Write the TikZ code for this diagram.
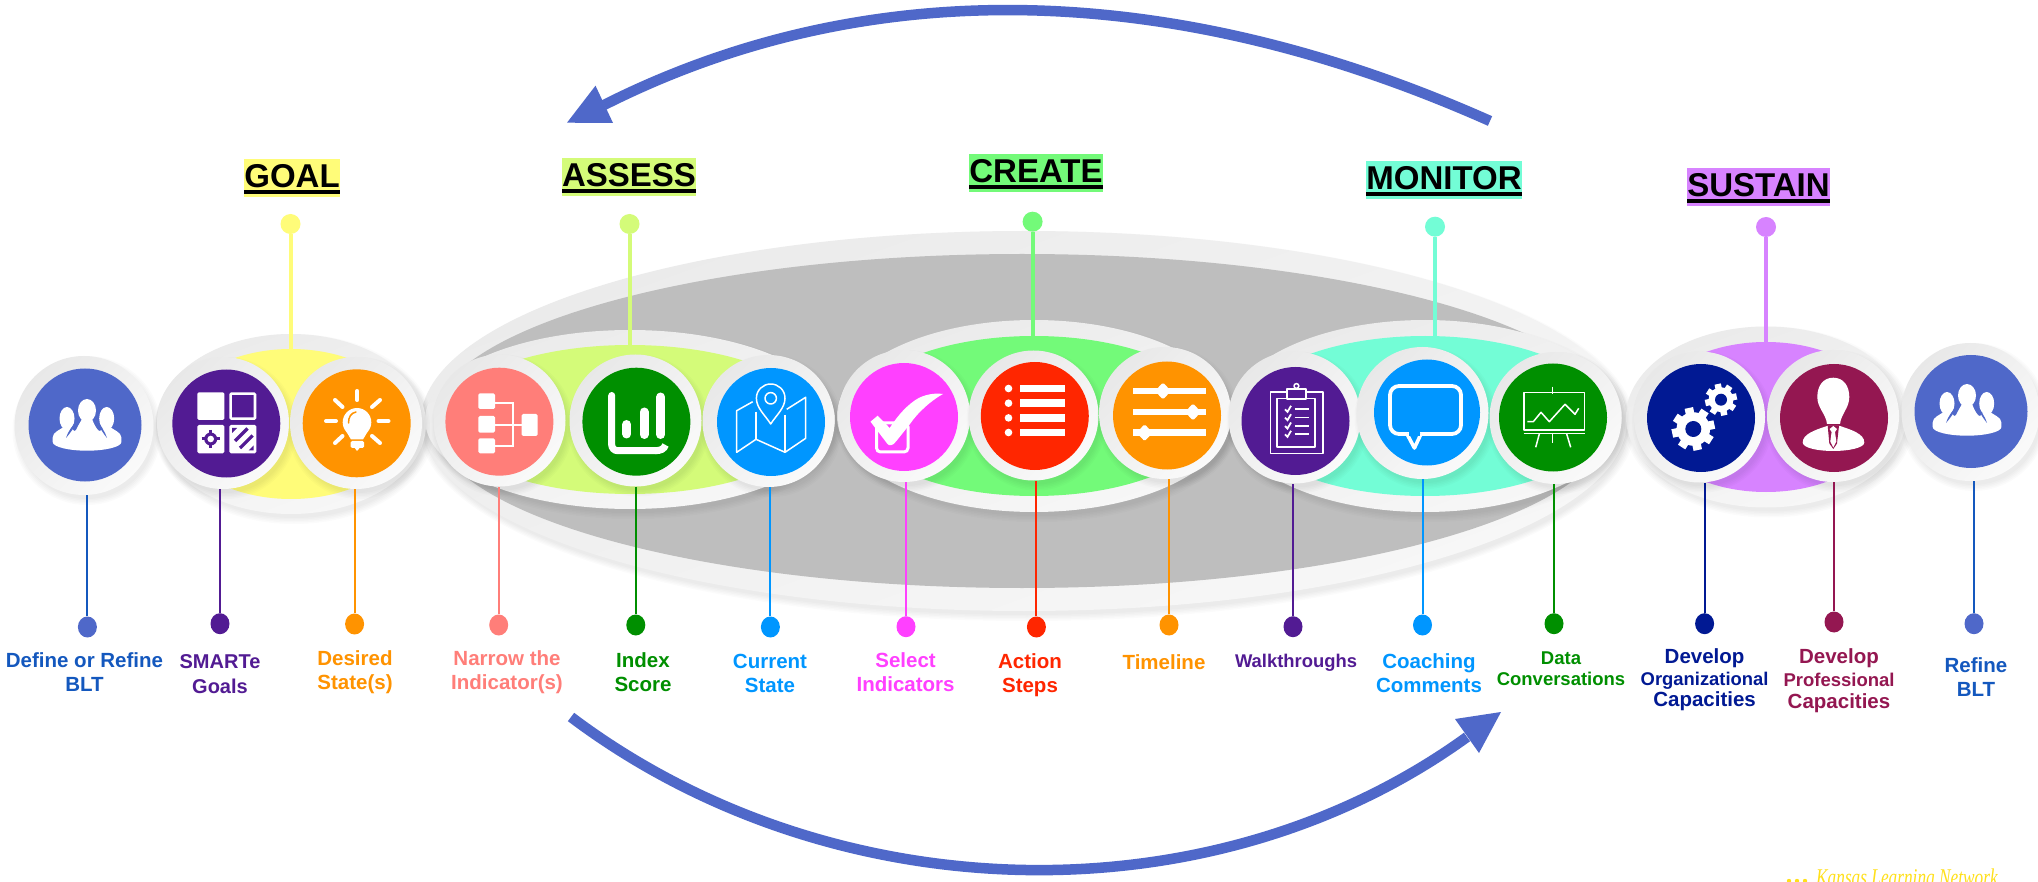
\documentclass[tikz,border=0pt]{standalone}
\usepackage{fontspec}
\setmainfont{Liberation Sans}
\newfontfamily\wmfont{Liberation Serif}
\usetikzlibrary{shapes.geometric}
\definecolor{cblue}{HTML}{4F68C9}
\definecolor{cblueT}{HTML}{1458BE}
\definecolor{cpurple}{HTML}{521B93}
\definecolor{corange}{HTML}{FF9300}
\definecolor{csalmon}{HTML}{FF7E79}
\definecolor{cgreen}{HTML}{008F00}
\definecolor{csky}{HTML}{0096FF}
\definecolor{cmag}{HTML}{FF40FF}
\definecolor{cred}{HTML}{FF2600}
\definecolor{cnavy}{HTML}{011993}
\definecolor{cmaroon}{HTML}{941751}
\definecolor{gyellow}{HTML}{FFFC79}
\definecolor{glime}{HTML}{D4FB79}
\definecolor{ggreen}{HTML}{73FA79}
\definecolor{gaqua}{HTML}{73FDD6}
\definecolor{gviolet}{HTML}{D783FF}
\definecolor{bggray}{HTML}{BEBEBE}
\definecolor{wmyellow}{HTML}{FFE01A}
\tikzset{
  ringnode/.style={circle,inner sep=0pt,outer sep=0pt,draw=none,shading=axis,top color=black!9,bottom color=black!2,shading angle=45},
  ringell/.style={ellipse,inner sep=0pt,outer sep=0pt,draw=none,shading=axis,top color=black!8,bottom color=black!3,shading angle=20},
  discnode/.style={circle,inner sep=0pt,outer sep=0pt,draw=none},
  dotnode/.style={ellipse,minimum width=19pt,minimum height=21pt,inner sep=0pt,draw=none},
  grpnode/.style={ellipse,inner sep=0pt,outer sep=0pt,draw=none},
  headnode/.style={inner sep=0pt,outer sep=0pt,draw=none,font=\fontsize{33}{36}\selectfont\bfseries},
  lab/.style={align=center,inner sep=0pt,font=\fontsize{20.5}{24}\selectfont\bfseries},
  arc line/.style={cblue,line width=10.5pt},
  thin icon/.style={white,line width=1.5pt,line join=round},
}
\newcommand\softshadow[4]{%
  \foreach \k in {0,...,4}{\fill[black,opacity=.016] ({#1+3},{#2+5}) ellipse [x radius={#3-1+1.5*\k},y radius={#4-1+1.5*\k}];}}
\newcommand\stagedisc[8]{%
  \softshadow{#2}{#3}{#4}{#4}
  \node[ringnode,minimum size={2*#4}] (ring-#1) at (#2,#3) {};
  \node[discnode,fill=#8,minimum size={2*#7}] (disc-#1) at (#5,#6) {};}
\newcommand\stem[5]{%
  \node[dotnode,fill=#4] (dot-#1) at (#2,#3) {};
  \draw[#5,line width=2pt] (dot-#1) -- (dot-#1 |- ring-#1.south);}
\newcommand\stagegroup[8]{%
  \softshadow{#2}{#3}{#4}{#5}
  \node[ringell,minimum width={2*#4},minimum height={2*#5}] (gring-#1) at (#2,#3) {};
  \node[grpnode,fill=#8,minimum width={2*#6},minimum height={2*#7}] (grp-#1) at (#2,#3) {};}
\newcommand\topstem[4]{%
  \node[dotnode,minimum width=20pt,minimum height=20pt,fill=#4] (tdot-#1) at (#2,#3) {};
  \draw[#4,line width=4pt] (tdot-#1) -- ([yshift=-1pt]tdot-#1 |- grp-#1.north);}
\newcommand\thickul[1]{\vbox{\hbox{#1}\kern2pt\hrule height 4pt\kern-3pt}}
\newcommand\peopleicon[2]{%
  \begin{scope}[shift={(#1,#2)}]
    \fill[white] (2,-14.5) ellipse [x radius=9,y radius=11.5];
    \fill[white] (-18,-6.5) ellipse [x radius=7.5,y radius=11.5];
    \fill[white] (21.7,-6.5) ellipse [x radius=7.5,y radius=11.5];
    \fill[white] (-32.3,12.5) .. controls (-32.3,7) and (-25,5) .. (-20,1) -- (-15,1) .. controls (-12,4) and (-11,8) .. (-9,5)
      .. controls (-6,-1) and (-4,-4) .. (-3,-6) -- (7,-6) .. controls (9,-1) and (11,3) .. (13,5)
      .. controls (15,8) and (17,4) .. (19,1) -- (24,1) .. controls (28,5) and (36.4,7) .. (36.4,12.5)
      -- (36.4,17) .. controls (36.4,22) and (20,25.7) .. (2,25.7) .. controls (-16,25.7) and (-32.3,22) .. (-32.3,17) -- cycle;
    \fill[cblue] (-19,13) .. controls (-17,6) and (-13,2) .. (-8,-5) .. controls (-11,4) and (-15,8) .. (-19,13) -- cycle;
    \fill[cblue] (22,13) .. controls (20,6) and (16,2) .. (12,-5) .. controls (15,4) and (18,8) .. (22,13) -- cycle;
  \end{scope}}
\newcommand\gearicon[4]{%
  \foreach \a in {0,45,90,135}{\fill[white,shift={(#1,#2)},rotate=\a+12] ({-#3*.2},{-#3}) rectangle ({#3*.2},{#3});}
  \fill[white] (#1,#2) circle [radius={#3*.78}];
  \fill[cnavy] (#1,#2) circle [radius=#4];}
\begin{document}
\begin{tikzpicture}[x=1pt,y=-1pt]
\useasboundingbox (0,0) rectangle (2038,882);
\fill[white] (0,0) rectangle (2038,882);
\begin{scope}
\clip (0,0) rectangle (2038,882);

% big grey lens
\softshadow{1024}{421}{603}{190}
\node[ringell,minimum width=1206pt,minimum height=380pt] (bigring) at (1024,421) {};
\node[grpnode,fill=bggray,minimum width=1180pt,minimum height=334pt] (biggrey) at (1022,421) {};

% group ellipses
\stagegroup{goal}{291}{424}{135}{90}{118}{75}{gyellow}
\stagegroup{assess}{630}{419.5}{205}{89.5}{185}{74.5}{glime}
\stagegroup{create}{1034}{416}{197}{96}{180}{80}{ggreen}
\stagegroup{monitor}{1425}{416}{197}{96}{182}{80}{gaqua}
\stagegroup{sustain}{1766}{417}{140}{90.5}{120}{75}{gviolet}

% top stems
\topstem{goal}{290.5}{224}{gyellow}
\topstem{assess}{629.5}{224}{glime}
\topstem{create}{1032.6}{221.7}{ggreen}
\topstem{monitor}{1435}{226.7}{gaqua}
\topstem{sustain}{1766}{227}{gviolet}

% headings
\node[headnode,fill=gyellow,minimum width=96pt,minimum height=38pt] (head-goal) at (292,178) {\thickul{GOAL}};
\node[headnode,fill=glime,minimum width=134pt,minimum height=38pt] (head-assess) at (629,177) {\thickul{ASSESS}};
\node[headnode,fill=ggreen,minimum width=134pt,minimum height=38pt] (head-create) at (1036,173) {\thickul{CREATE}};
\node[headnode,fill=gaqua,minimum width=156pt,minimum height=38pt] (head-monitor) at (1444,180) {\thickul{MONITOR}};
\node[headnode,fill=gviolet,minimum width=143pt,minimum height=38pt] (head-sustain) at (1758.5,187) {\thickul{SUSTAIN}};

% discs
\stagedisc{blt}{84}{425.5}{69.5}{85}{425}{56.5}{cblue}
\stagedisc{smart}{223}{423}{66}{226.3}{423.5}{54}{cpurple}
\stagedisc{desired}{356}{423}{66}{356.7}{423.3}{54}{corange}
\stagedisc{narrow}{499.5}{420.5}{66}{499.4}{421.7}{54}{csalmon}
\stagedisc{index}{635.5}{420.5}{66}{636.4}{421.7}{54}{cgreen}
\stagedisc{current}{768.5}{421}{66}{771}{422}{54}{csky}
\stagedisc{select}{904}{416}{66}{904}{417}{54}{cmag}
\stagedisc{action}{1033.5}{415.5}{65}{1034.8}{416}{54}{cred}
\stagedisc{timeline}{1165}{413}{66}{1167}{415.5}{54}{corange}
\stagedisc{walk}{1294.5}{417.5}{66}{1295.5}{421}{54}{cpurple}
\stagedisc{coach}{1422.5}{413}{66}{1427}{412.5}{53}{csky}
\stagedisc{data}{1555.5}{418}{66}{1553}{417.5}{54}{cgreen}
\stagedisc{org}{1699.5}{417}{65.5}{1701}{418}{54}{cnavy}
\stagedisc{prof}{1833}{416}{66}{1834}{418}{54}{cmaroon}
\stagedisc{refine}{1970.5}{412}{69}{1971}{411.5}{56.5}{cblue}

% stems with dots
\stem{blt}{87.4}{627}{cblue}{cblueT}
\stem{smart}{220}{623.7}{cpurple}{cpurple}
\stem{desired}{354.6}{624}{corange}{corange}
\stem{narrow}{498.7}{625}{csalmon}{csalmon}
\stem{index}{635.8}{625}{cgreen}{cgreen}
\stem{current}{770.4}{627}{csky}{csky}
\stem{select}{906}{626.7}{cmag}{cmag}
\stem{action}{1036.4}{627}{cred}{cred}
\stem{timeline}{1169}{625}{corange}{corange}
\stem{walk}{1293}{626.7}{cpurple}{cpurple}
\stem{coach}{1422.5}{625}{csky}{csky}
\stem{data}{1554}{623.7}{cgreen}{cgreen}
\stem{org}{1704.6}{623.7}{cnavy}{cnavy}
\stem{prof}{1834}{622}{cmaroon}{cmaroon}
\stem{refine}{1974}{623.7}{cblue}{cblueT}

% labels
\node[lab,text=cblueT] (t-blt) at (84.5,672.5) {Define or Refine\\BLT};
\node[lab,text=cpurple,font=\fontsize{20}{24.5}\selectfont\bfseries] (t-smart) at (220,674) {SMARTe\\Goals};
\node[lab,text=corange] (t-desired) at (355,672.5) {Desired\\State(s)};
\node[lab,text=csalmon] (t-narrow) at (507,672.5) {Narrow the\\Indicator(s)};
\node[lab,text=cgreen] (t-index) at (643,672.5) {Index\\Score};
\node[lab,text=csky] (t-current) at (770,673.5) {Current\\State};
\node[lab,text=cmag] (t-select) at (905.6,672.5) {Select\\Indicators};
\node[lab,text=cred] (t-action) at (1030,675) {Action\\Steps};
\node[lab,text=corange] (t-timeline) at (1164,662) {Timeline};
\node[lab,text=cpurple,font=\fontsize{18.4}{22}\selectfont\bfseries] (t-walk) at (1296,662.7) {Walkthroughs};
\node[lab,text=csky] (t-coach) at (1429,673) {Coaching\\Comments};
\node[lab,text=cgreen,font=\fontsize{18.5}{21.5}\selectfont\bfseries] (t-data) at (1561,668.5) {Data\\Conversations};
\node[lab,text=cnavy,font=\fontsize{20.5}{21.5}\selectfont\bfseries] (t-org) at (1704.6,680) {Develop\\{\fontsize{18.4}{21.5}\selectfont Organizational}\\Capacities};
\node[lab,text=cmaroon,font=\fontsize{20.5}{22.5}\selectfont\bfseries] (t-prof) at (1839,681) {Develop\\{\fontsize{18.5}{22.5}\selectfont Professional}\\Capacities};
\node[lab,text=cblueT] (t-refine) at (1976,677) {Refine\\BLT};

% loop arrows
\coordinate (arcA) at (1490,121);
\coordinate (arcB) at (604,105);
\draw[arc line] (arcA) .. controls (1173,-20) and (868,-28) .. (arcB);
\fill[cblue] (567,122.7) -- (595.5,85.7) -- (613,123) -- cycle;
\coordinate (arcC) at (571,717);
\coordinate (arcD) at (1467,737);
\draw[arc line] (arcC) .. controls (830,912) and (1210,923) .. (arcD);
\fill[cblue] (1501,712) -- (1455,719) -- (1479,753) -- cycle;

% ---- icons ----
\peopleicon{85}{425}
\peopleicon{1965}{410}

% SMARTe goals squares
\fill[white,rounded corners=1.5pt] (197.3,392.3) rectangle (224.3,420);
\draw[white,line width=2.6pt,rounded corners=1pt] (230.6,393.6) rectangle (255,418.7);
\fill[white,rounded corners=1.5pt] (197.3,425) rectangle (224.3,453.3);
\fill[white,rounded corners=1.5pt] (229.3,425) rectangle (256.3,453.3);
\draw[cpurple,line width=3pt] (201.5,439) -- (220,439);
\draw[cpurple,line width=3pt] (210.7,430) -- (210.7,448);
\fill[cpurple] (210.7,439) circle [radius=6.5];
\fill[white] (210.7,439) circle [radius=3.3];
\draw[cpurple,line width=3.2pt] (235,441) -- (247.5,428.5);
\draw[cpurple,line width=3.2pt] (240,448) -- (252.7,435.5);
\fill[cpurple] (232,428) -- (237,428) -- (232,433) -- cycle;
\fill[cpurple] (253.5,450.5) -- (248.5,450.5) -- (253.5,445.5) -- cycle;

% bulb
\fill[white] (357,422.3) circle [radius=14.3];
\fill[white] (346,431) -- (368,431) -- (363,439.5) -- (351,439.5) -- cycle;
\fill[white,rounded corners=1.5pt] (350.7,441) rectangle (364,448);
\fill[white] (354,447) -- (360.5,447) -- (357,451) -- cycle;
\draw[corange,line width=1.5pt,line cap=round] (348.5,423) .. controls (348.5,417) and (351,413) .. (356,412);
\foreach \xa/\ya/\xb/\yb in {357.3/391/357.3/400,326/421/336/421,378.5/421/388.5/421,335/400/342.5/407,380/400/372/407,335/443/342.5/436,380/443/372/436}{
  \draw[white,line width=4pt,line cap=round] (\xa,\ya) -- (\xb,\yb);}

% tree icon
\fill[white,rounded corners=1.5pt] (478.3,393.3) rectangle (495,409);
\fill[white,rounded corners=1.5pt] (478.3,416) rectangle (495,432.7);
\fill[white,rounded corners=1.5pt] (478.3,438.3) rectangle (495,453.3);
\fill[white,rounded corners=1.5pt] (521.7,414) rectangle (537.7,436);
\draw[white,line width=1.8pt] (495,403.3) -- (512.7,403.3) -- (512.7,446) -- (495,446);
\draw[white,line width=1.8pt] (495,425) -- (521.7,425);

% bar chart
\draw[white,line width=7pt,line cap=round,rounded corners=6pt] (611.7,395.5) -- (611.7,450.7) -- (656,450.7);
\draw[white,line width=7pt] (655,450.7) .. controls (661,450.7) and (664,449) .. (665.5,445);
\draw[white,line width=9pt,line cap=round] (626.7,424.5) -- (626.7,434);
\draw[white,line width=9pt,line cap=round] (644,412) -- (644,434.5);
\draw[white,line width=9pt,line cap=round] (660.7,397) -- (660.7,434.5);

% map
\draw[thin icon] (752.7,401.7) -- (736.7,410.7) -- (736.7,452.3) -- (756,439.3) -- (785,452.3) -- (805.7,438.3) -- (805.7,397.3) -- (786.7,409.3);
\draw[thin icon] (756,411.7) -- (756,439.3);
\draw[thin icon] (785,415) -- (785,452.3);
\draw[thin icon] (770.7,424) .. controls (765,415) and (756.4,408) .. (756.4,398.3) .. controls (756.4,390) and (763,384) .. (770.7,384) .. controls (778.4,384) and (785,390) .. (785,398.3) .. controls (785,408) and (776.4,415) .. cycle;
\draw[thin icon] (770.7,398.3) circle [radius=5.7];

% check box
\draw[white,line width=3pt,rounded corners=4pt] (876.5,423) rectangle (908,452);
\fill[white] (870.5,421.7) -- (877.7,415.7) -- (889.7,428) .. controls (898,415) and (908,404) .. (918.7,398) .. controls (927,394) and (935,393) .. (943,394)
  .. controls (932,400) and (918,412) .. (910,424) -- (896.4,441) .. controls (893,446) and (889,446) .. (887.5,444) -- cycle;

% list
\foreach \yy in {388.5,403.2,417.9,432.5}{
  \fill[white] (1020,\yy-3.8) rectangle (1065,\yy+3.8);
  \fill[white] (1008.5,\yy) circle [radius=3.8];}

% sliders
\foreach \yy/\xx in {391/1163,412/1193,432.7/1144.6}{
  \fill[white] (1133,\yy-3.2) rectangle (1205.8,\yy+3.2);
  \fill[white,rounded corners=1.5pt] (\xx-8,\yy) -- (\xx,\yy-8.5) -- (\xx+8,\yy) -- (\xx,\yy+8.5) -- cycle;}

% clipboard
\draw[thin icon] (1287,392) -- (1270.5,392) -- (1270.5,453.3) -- (1322.8,453.3) -- (1322.8,392) -- (1306,392);
\draw[thin icon] (1287,398.5) -- (1277,398.5) -- (1277,447) -- (1315,447) -- (1315,398.5) -- (1306,398.5);
\draw[thin icon] (1287,399) -- (1287,389) -- (1306,389) -- (1306,399) -- cycle;
\draw[thin icon] (1296.4,386) circle [radius=2.4];
\foreach \yy in {409.3,417.7,426,434.3}{
  \draw[white,line width=1.8pt] (1285,\yy) -- (1287.5,\yy+2.5) -- (1291,\yy-3.5);
  \draw[white,line width=1.6pt] (1294.7,\yy) -- (1309.4,\yy);}

% speech bubble
\draw[white,line width=3.8pt,rounded corners=9pt] (1390,386) rectangle (1461,434);
\filldraw[fill=csky,draw=white,line width=3.6pt,line join=round] (1407,434) -- (1414.4,448) -- (1421,434);
\draw[csky,line width=3.8pt] (1409,434) -- (1419.5,434);

% easel
\draw[thin icon] (1524,392.7) rectangle (1584.7,430);
\draw[thin icon] (1552.7,386.7) -- (1552.7,394);
\draw[thin icon] (1523.5,433.5) -- (1585,433.5);
\draw[thin icon] (1539.3,434) -- (1535.7,447.3);
\draw[thin icon] (1552.7,434) -- (1552.7,443.3);
\draw[thin icon] (1566.7,434) -- (1570.7,447.3);
\draw[thin icon] (1527.3,421.7) -- (1533.3,421.7) -- (1541,412.3) -- (1549.3,421.7) -- (1565,404.3) -- (1575,414.3) -- (1578.7,408.3);

% gears
\gearicon{1693.3}{429}{21.5}{8}
\gearicon{1721}{399.7}{16}{6}

% person
\fill[white] (1833.3,377.7) .. controls (1823,377.7) and (1817.3,386) .. (1817.3,397) .. controls (1817.3,408) and (1826,414) .. (1827,424) -- (1840,424) .. controls (1841,414) and (1849.3,408) .. (1849.3,397) .. controls (1849.3,386) and (1843.6,377.7) .. cycle;
\fill[white] (1827,426) .. controls (1815,430) and (1802.7,434) .. (1802.7,442.5) .. controls (1802.7,448) and (1818,451) .. (1833.3,451) .. controls (1848,451) and (1864.3,448) .. (1864.3,442.5) .. controls (1864.3,434) and (1852,430) .. (1840,426) -- cycle;
\fill[cmaroon] (1827.7,425.7) -- (1839,425.7) -- (1837,443.5) -- (1833.3,449) -- (1829.3,443.5) -- cycle;
\fill[white] (1833.3,426) -- (1837,429) -- (1835,432) -- (1836.3,441.5) -- (1833.3,447.5) -- (1830.3,441.5) -- (1831.6,432) -- (1829.6,429) -- cycle;

% watermark
\fill[wmyellow] (1789,881) circle [radius=2.2];
\fill[wmyellow] (1797,881) circle [radius=2.2];
\fill[wmyellow] (1805,881) circle [radius=2.2];
\node[anchor=base west,inner sep=0pt,text=wmyellow] (wm) at (1816,885) {\scalebox{.72}[1]{\wmfont\itshape\fontsize{24}{24}\selectfont Kansas Learning Network}};
\end{scope}
\end{tikzpicture}
\end{document}
